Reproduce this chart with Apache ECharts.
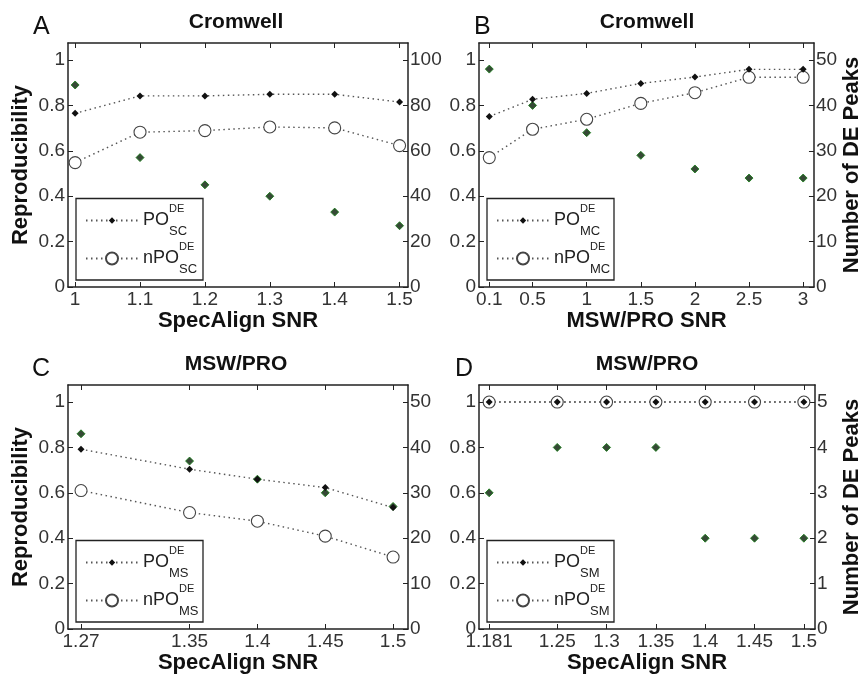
<!DOCTYPE html>
<html>
<head>
<meta charset="utf-8">
<script src="https://cdn.jsdelivr.net/npm/echarts@6/dist/echarts.min.js"></script>
<style>
html, body { margin: 0; padding: 0; background: #fff; }
#chart { width: 864px; height: 684px; }
</style>
</head>
<body>
<div id="chart"></div>
<script>
var FONT = '"Liberation Sans", Arial, sans-serif';

// panel A - Cromwell / SpecAlign SNR
var xA = [1, 1.1, 1.2, 1.3, 1.4, 1.5];
var poSC = [0.765, 0.842, 0.842, 0.849, 0.849, 0.815];
var npoSC = [0.548, 0.682, 0.689, 0.705, 0.701, 0.623];
var peaksA = [89, 57, 45, 40, 33, 27];

// panel B - Cromwell / MSW/PRO SNR
var xB = [0.1, 0.5, 1, 1.5, 2, 2.5, 3];
var poMC = [0.751, 0.827, 0.853, 0.897, 0.925, 0.959, 0.959];
var npoMC = [0.570, 0.695, 0.739, 0.809, 0.856, 0.924, 0.924];
var peaksB = [48, 40, 34, 29, 26, 24, 24];

// panel C - MSW/PRO / SpecAlign SNR
var xC = [1.27, 1.35, 1.4, 1.45, 1.5];
var poMS = [0.792, 0.704, 0.66, 0.623, 0.535];
var npoMS = [0.61, 0.513, 0.475, 0.409, 0.317];
var peaksC = [43, 37, 33, 30, 27];

// panel D - MSW/PRO / SpecAlign SNR
var xD = [1.181, 1.25, 1.3, 1.35, 1.4, 1.45, 1.5];
var poSM = [1, 1, 1, 1, 1, 1, 1];
var npoSM = [1, 1, 1, 1, 1, 1, 1];
var peaksD = [3, 4, 4, 4, 2, 2, 2];

var yTicks = [0, 0.2, 0.4, 0.6, 0.8, 1];
var rTicksA = [0, 20, 40, 60, 80, 100];
var rTicksBC = [0, 10, 20, 30, 40, 50];
var rTicksD = [0, 1, 2, 3, 4, 5];

var panels = [
    { letter: 'A', letterLeft: 33, title: 'Cromwell', left: 68, top: 43, sub: 'SC',
      x: xA, po: poSC, npo: npoSC, peaks: peaksA, xMin: 0.989, xMax: 1.513,
      rMax: 107.5, rTicks: rTicksA, xName: 'SpecAlign SNR', yName: 'Reproducibility', rName: '' },
    { letter: 'B', letterLeft: 474, title: 'Cromwell', left: 479, top: 43, sub: 'MC',
      x: xB, po: poMC, npo: npoMC, peaks: peaksB, xMin: 0.005, xMax: 3.1,
      rMax: 53.75, rTicks: rTicksBC, xName: 'MSW/PRO SNR', yName: '', rName: 'Number of DE Peaks' },
    { letter: 'C', letterLeft: 32, title: 'MSW/PRO', left: 68, top: 385, sub: 'MS',
      x: xC, po: poMS, npo: npoMS, peaks: peaksC, xMin: 1.2604, xMax: 1.511,
      rMax: 53.75, rTicks: rTicksBC, xName: 'SpecAlign SNR', yName: 'Reproducibility', rName: '' },
    { letter: 'D', letterLeft: 455, title: 'MSW/PRO', left: 479, top: 385, sub: 'SM',
      x: xD, po: poSM, npo: npoSM, peaks: peaksD, xMin: 1.1707, xMax: 1.5113,
      rMax: 5.375, rTicks: rTicksD, xName: 'SpecAlign SNR', yName: '', rName: 'Number of DE Peaks' }
];

function zip(xs, ys) {
    return xs.map(function (x, i) { return [x, ys[i]]; });
}

var axisColor = '#222';
var labelStyle = { fontSize: 19, color: '#333', fontFamily: FONT };
var nameStyle = { fontSize: 22, fontWeight: 'bold', color: '#111', fontFamily: FONT };
var dotted = { type: [1.5, 3.5], width: 1.4, color: '#555' };

var legendRich = {
    m: { fontSize: 18, lineHeight: 34, color: '#222', fontFamily: FONT },
    sup: { fontSize: 11, lineHeight: 21, width: 0, align: 'left', verticalAlign: 'top', color: '#222', fontFamily: FONT },
    sub: { fontSize: 13, lineHeight: 10, verticalAlign: 'bottom', color: '#222', fontFamily: FONT }
};
function legendLabel(name) {
    var parts = name.split('_');
    return '{m|' + parts[0] + '}{sup|DE}{sub|' + parts[1] + '}';
}

var option = {
    animation: false,
    backgroundColor: '#fff',
    title: [], grid: [], xAxis: [], yAxis: [], series: [], legend: [],
    graphic: { elements: [] }
};

panels.forEach(function (p, i) {
    option.title.push({
        text: p.title, left: p.left + 168, textAlign: 'center', top: p.top - 31, padding: 0,
        textStyle: { fontSize: 21, fontWeight: 'bold', color: '#111', fontFamily: FONT }
    });
    option.title.push({
        text: p.letter, left: p.letterLeft, top: p.top - 28, padding: 0,
        textStyle: { fontSize: 25, fontWeight: 'normal', color: '#111', fontFamily: FONT }
    });

    option.grid.push({ left: p.left, top: p.top, width: 340, height: 244 });

    option.xAxis.push({
        gridIndex: i, type: 'value', position: 'bottom', min: p.xMin, max: p.xMax,
        axisLine: { show: true, onZero: false, lineStyle: { color: axisColor, width: 1.5 } },
        axisTick: { show: true, inside: true, length: 5, customValues: p.x, lineStyle: { color: axisColor } },
        axisLabel: Object.assign({ customValues: p.x, margin: 3 }, labelStyle),
        splitLine: { show: false },
        name: p.xName, nameLocation: 'middle', nameGap: 21, nameTextStyle: nameStyle
    });
    option.xAxis.push({
        gridIndex: i, type: 'value', position: 'top', min: p.xMin, max: p.xMax,
        axisLine: { show: true, onZero: false, lineStyle: { color: axisColor, width: 1.5 } },
        axisTick: { show: true, inside: true, length: 5, customValues: p.x, lineStyle: { color: axisColor } },
        axisLabel: { show: false },
        splitLine: { show: false }
    });

    option.yAxis.push({
        gridIndex: i, type: 'value', position: 'left', min: 0, max: 1.075,
        axisLine: { show: true, onZero: false, lineStyle: { color: axisColor, width: 1.5 } },
        axisTick: { show: true, inside: true, length: 5, customValues: yTicks, lineStyle: { color: axisColor } },
        axisLabel: Object.assign({ customValues: yTicks, margin: 3 }, labelStyle),
        splitLine: { show: false },
        name: p.yName, nameLocation: 'middle', nameGap: 36, nameTextStyle: nameStyle
    });
    option.yAxis.push({
        gridIndex: i, type: 'value', position: 'right', min: 0, max: p.rMax,
        axisLine: { show: true, onZero: false, lineStyle: { color: axisColor, width: 1.5 } },
        axisTick: { show: true, inside: true, length: 5, customValues: p.rTicks, lineStyle: { color: axisColor } },
        axisLabel: Object.assign({ customValues: p.rTicks, margin: 2 }, labelStyle),
        splitLine: { show: false },
        name: p.rName, nameLocation: 'middle', nameGap: 26, nameTextStyle: nameStyle
    });

    option.series.push({
        name: 'nPO_' + p.sub, type: 'line', xAxisIndex: 2 * i, yAxisIndex: 2 * i,
        data: zip(p.x, p.npo), symbol: 'circle', symbolSize: 12,
        lineStyle: dotted, itemStyle: { color: '#fff', borderColor: '#444', borderWidth: 1.1 },
        emphasis: { disabled: true }
    });
    option.series.push({
        name: 'PO_' + p.sub, type: 'line', xAxisIndex: 2 * i, yAxisIndex: 2 * i,
        data: zip(p.x, p.po), symbol: 'diamond', symbolSize: 7,
        lineStyle: dotted, itemStyle: { color: '#111' },
        emphasis: { disabled: true }
    });
    option.series.push({
        name: 'peaks_' + p.sub, type: 'scatter', xAxisIndex: 2 * i, yAxisIndex: 2 * i + 1,
        data: zip(p.x, p.peaks), symbol: 'diamond', symbolSize: 8,
        itemStyle: { color: '#041c04', borderColor: '#117a11', borderWidth: 1 },
        emphasis: { disabled: true }
    });

    // legend frame
    option.graphic.elements.push({
        type: 'rect', z: 3,
        shape: { x: p.left + 8, y: p.top + 155.5, width: 127, height: 81.5 },
        style: { fill: '#fff', stroke: '#222', lineWidth: 1.3 }
    });
    option.legend.push({
        data: ['PO_' + p.sub], orient: 'vertical', left: p.left + 17, top: p.top + 177.5 - 17,
        padding: 0, itemWidth: 52, itemHeight: 8, selectedMode: false,
        formatter: legendLabel, textStyle: { rich: legendRich }
    });
    option.legend.push({
        data: ['nPO_' + p.sub], orient: 'vertical', left: p.left + 17, top: p.top + 215.5 - 17,
        padding: 0, itemWidth: 52, itemHeight: 15, selectedMode: false,
        formatter: legendLabel, textStyle: { rich: legendRich }
    });
});

var myChart = echarts.init(document.getElementById('chart'));
myChart.setOption(option);
</script>
</body>
</html>
